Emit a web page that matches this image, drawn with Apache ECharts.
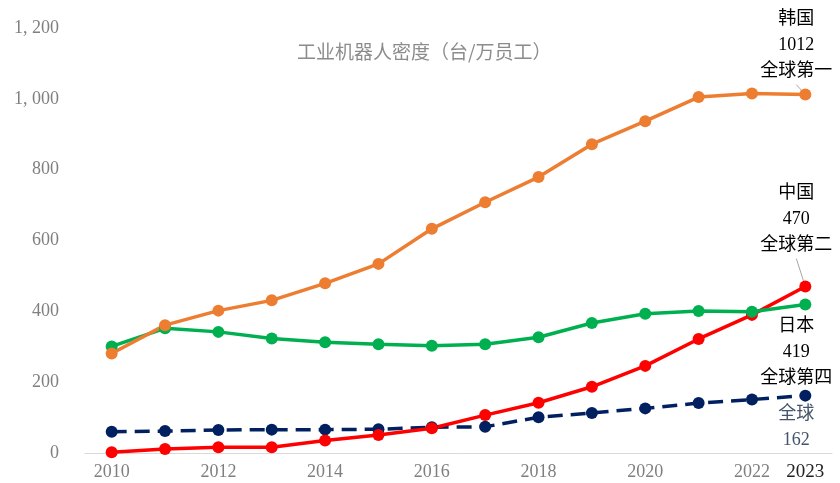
<!DOCTYPE html>
<html><head><meta charset="utf-8">
<script src="https://cdn.jsdelivr.net/npm/echarts@6/dist/echarts.min.js"></script>
<style>html,body{margin:0;padding:0;background:#fff}#c{width:840px;height:483px}</style>
</head><body><div id="c"></div>
<script>
const years = ['2010','2011','2012','2013','2014','2015','2016','2017','2018','2019','2020','2021','2022','2023'];
const korea = [281, 361, 402, 431, 479, 534, 633, 708, 779, 872, 937, 1005, 1015, 1012];
const japan = [301, 352, 342, 323, 313, 307, 303, 307, 327, 367, 393, 401, 399, 419];
const china = [2, 11, 16, 16, 35, 51, 70, 107, 142, 187, 246, 322, 390, 470];
const world = [60, 62, 65, 66, 66, 67, 73, 74, 101, 113, 126, 141, 151, 162];
const yTicks = [0, 200, 400, 600, 800, 1000, 1200];
const titleText = '工业机器人密度（台/万员工）';
const labelKorea = '韩国\n1012\n全球第一';
const labelChina = '中国\n470\n全球第二';
const labelJapan = '日本\n419\n全球第四';
const labelWorld = '全球\n162';

const serif = "'Liberation Serif','DejaVu Serif','Noto Sans CJK SC',serif";
const annFont = "'Liberation Serif','Noto Sans CJK SC',serif";

function withEndLabel(arr, text, color, fw) {
  return arr.map((v, i) => {
    if (i !== arr.length - 1) return v;
    return {
      value: v,
      label: {
        show: true, formatter: text, position: 'inside',
        color: color, fontSize: 18, lineHeight: 26, fontFamily: annFont,
        fontWeight: fw, align: 'center', verticalAlign: 'middle'
      }
    };
  });
}

const chart = echarts.init(document.getElementById('c'), null, {renderer: 'canvas'});
const mk = (name, data, color, dashed, lay, guide) => ({
  name, type: 'line', data, symbol: 'circle', symbolSize: 12,
  lineStyle: {color, width: 3.5, type: dashed ? [15, 8] : 'solid'},
  itemStyle: {color},
  label: {show: false},
  labelLayout: lay,
  labelLine: {show: guide, lineStyle: {color: '#a6a6a6', width: 1}, length2: 0, smooth: false},
  emphasis: {disabled: true},
  animation: false
});
chart.setOption({
  animation: false,
  title: {
    text: titleText, left: 292, top: 37,
    textStyle: {color: '#8c8c8c', fontSize: 19, fontWeight: 'normal', fontFamily: "'Noto Sans CJK SC',sans-serif"}
  },
  grid: {left: 85, right: 8, top: 28, bottom: 30},
  xAxis: {
    type: 'category', data: years, boundaryGap: true,
    axisLine: {show: true, lineStyle: {color: '#d9d9d9', width: 1}},
    axisTick: {show: false},
    axisLabel: {
      margin: 10, fontSize: 18, fontFamily: serif, color: '#7f7f7f',
      interval: 0,
      formatter: (v, i) => {
        if (v === '2023') return '{b|' + v + '}';
        return (i % 2 === 0) ? v : '';
      },
      rich: {b: {color: '#222', fontSize: 19, fontFamily: serif, padding: [0, 0, 4, 0]}}
    }
  },
  yAxis: {
    type: 'value', min: yTicks[0], max: yTicks[yTicks.length - 1], interval: 200,
    axisLine: {show: false}, axisTick: {show: false},
    splitLine: {show: false},
    axisLabel: {
      margin: 26, fontSize: 18, fontFamily: serif, color: '#7f7f7f',
      formatter: v => v >= 1000 ? Math.floor(v / 1000) + ', ' + String(v % 1000).padStart(3, '0') : String(v)
    }
  },
  series: [
    mk('全球', withEndLabel(world, labelWorld, '#44546a', 'normal'), '#002060', true, {dx: -9, dy: 32}, false),
    mk('中国', withEndLabel(china, labelChina, '#000', 'normal'), '#ff0000', false, {dx: -9, dy: -67}, true),
    mk('日本', withEndLabel(japan, labelJapan, '#000', 'normal'), '#00b050', false, {dx: -9, dy: 48}, false),
    mk('韩国', withEndLabel(korea, labelKorea, '#000', 'normal'), '#ed7d31', false, {dx: -9, dy: -49}, true)
  ]
});
</script>
</body></html>
